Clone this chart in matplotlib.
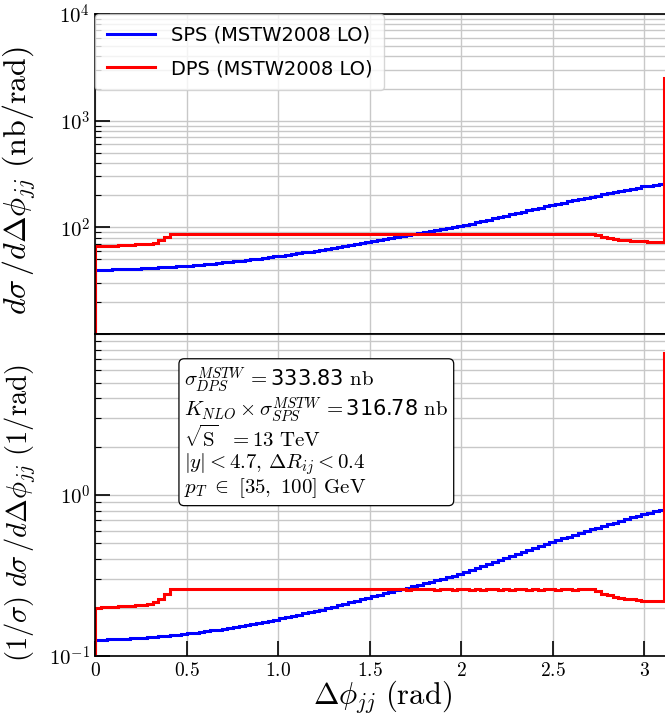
import numpy as np
import matplotlib
matplotlib.use('Agg')
import matplotlib.pyplot as plt
from matplotlib.ticker import FixedLocator, FixedFormatter, FuncFormatter, LogLocator, NullFormatter

plt.rcParams.update({'mathtext.fontset': 'cm'})

# 100 bins over [0, pi]
edges = np.linspace(0, np.pi, 101)

# dsigma/dDphi (nb/rad)
sps = [40.0, 40.1, 40.2, 40.3, 40.4, 40.6, 40.8, 41.0, 41.2, 41.5,
       41.8, 42.1, 42.4, 42.7, 43.0, 43.4, 43.8, 44.2, 44.7, 45.2,
       45.7, 46.2, 46.8, 47.4, 48.0, 48.7, 49.4, 50.1, 50.8, 51.6,
       52.4, 53.3, 54.2, 55.1, 56.1, 57.1, 58.2, 59.3, 60.4, 61.6,
       62.8, 64.1, 65.4, 66.8, 68.2, 69.7, 71.2, 72.8, 74.4, 76.1,
       77.7, 79.3, 81.0, 82.7, 84.4, 86.2, 88.0, 89.9, 91.8, 93.7,
       95.7, 97.7, 99.8, 101.9, 104.9, 108.0, 111.2, 114.5, 117.9, 121.4,
       125.0, 128.7, 132.5, 136.4, 140.4, 144.5, 148.7, 153.0, 157.5, 162.1,
       166.3, 170.6, 175.0, 179.5, 184.1, 188.8, 193.6, 198.5, 203.5, 208.6,
       213.8, 219.1, 224.5, 230.0, 235.6, 241.3, 246.5, 251.7, 256.9, 262.1]

dps = [66.8, 67.0, 67.2, 67.5, 67.8, 68.2, 68.6, 69.1, 69.7, 70.4,
       72.0, 75.5, 80.5, 86.5,
       87.0, 86.8, 86.9, 86.6, 86.8, 86.7, 86.9, 86.5, 86.8, 86.6,
       86.7, 86.9, 86.6, 86.8, 86.5, 86.7, 86.8, 86.6, 86.9, 86.7,
       86.5, 86.8, 86.6, 86.7, 86.9, 86.6, 86.8, 86.5, 86.7, 86.6,
       86.8, 86.9, 86.6, 86.7, 86.5, 86.8, 86.6, 86.7, 86.9, 86.6,
       86.4, 86.7, 86.5, 86.8, 86.6, 86.3, 86.5, 86.7, 86.4, 86.6,
       86.5, 86.3, 86.6, 86.4, 86.7, 86.5, 86.3, 86.6, 86.4, 86.5,
       86.7, 86.4, 86.6, 86.3, 86.5, 86.6, 86.4, 86.7, 86.5, 86.4,
       86.6, 86.8, 86.5,
       84.0, 81.5, 79.5, 78.0, 76.8, 75.8, 75.0, 74.3, 73.8, 73.4, 73.1, 72.9,
       2530.0]

sigma_dps = 333.83  # nb
sigma_sps = 316.78  # nb (K_NLO x sigma)

xticks = [0, 0.5, 1.0, 1.5, 2, 2.5, 3]
xticklabels = ['$0$', '$0.5$', '$1.0$', '$1.5$', '$2$', '$2.5$', '$3$']

fig = plt.figure(figsize=(6.65, 7.15), dpi=100)
ax0 = fig.add_axes([0.1429, 0.5329, 0.8647, 0.4476])
ax1 = fig.add_axes([0.1429, 0.0825, 0.8647, 0.4503], sharex=ax0)

lw = 2.2
ax0.stairs(sps, edges, baseline=1e-6, color='#0000ff', lw=lw, label='SPS (MSTW2008 LO)')
ax0.stairs(dps, edges, baseline=1e-6, color='#ff0000', lw=lw, label='DPS (MSTW2008 LO)')
ax1.stairs(np.array(sps) / sigma_sps, edges, baseline=1e-6, color='#0000ff', lw=lw)
ax1.stairs(np.array(dps) / sigma_dps, edges, baseline=1e-6, color='#ff0000', lw=lw)

def logfmt(v, pos):
    e = int(round(np.log10(v)))
    return r'$10^{%d}$' % e

for ax, lo, hi in ((ax0, 10, 1e4), (ax1, 0.1, 10)):
    ax.set_yscale('log')
    ax.set_ylim(lo, hi)
    ax.set_xlim(0, np.pi)
    ax.yaxis.set_major_locator(LogLocator(base=10, numticks=10))
    ax.yaxis.set_minor_locator(LogLocator(base=10, subs=np.arange(2, 10), numticks=20))
    ax.yaxis.set_minor_formatter(NullFormatter())
    ax.set_axisbelow(True)
    ax.grid(True, which='major', color='#c8c8c8', lw=1.0)
    ax.grid(True, which='minor', axis='y', color='#c8c8c8', lw=1.0)
    ax.tick_params(which='major', direction='in', length=10.5, width=1.2, labelsize=15)
    ax.tick_params(which='minor', direction='in', length=4, width=0.8)
    for s in ax.spines.values():
        s.set_linewidth(1.2)

# hide the 10^1 labels where the panels meet
ax0.yaxis.set_major_formatter(FuncFormatter(lambda v, p: '' if v < 20 else logfmt(v, p)))
ax1.yaxis.set_major_formatter(FuncFormatter(lambda v, p: '' if v > 5 else logfmt(v, p)))

ax1.xaxis.set_major_locator(FixedLocator(xticks))
ax1.xaxis.set_major_formatter(FixedFormatter(xticklabels))
ax1.tick_params(axis='x', labelsize=14)
ax0.tick_params(axis='x', labelbottom=False, length=0)

ax0.set_ylabel(r'$d\sigma\,/d\Delta\phi_{jj}\ (\mathrm{nb/rad})$', fontsize=23)
ax1.set_ylabel(r'$(1/\sigma)\ d\sigma\,/d\Delta\phi_{jj}\ (1/\mathrm{rad})$', fontsize=20.5)
ax0.yaxis.set_label_coords(-0.1, 0.478)
ax1.yaxis.set_label_coords(-0.1, 0.444)
ax1.set_xlabel(r'$\Delta\phi_{jj}\ (\mathrm{rad})$', fontsize=22, labelpad=-1)

ax0.legend(loc='upper left', borderaxespad=0, fontsize=14, handlelength=2.5,
           labelspacing=0.75, borderpad=0.6)

info = '\n'.join([
    r'$\sigma^{MSTW}_{DPS}\, = $' + '%.2f' % sigma_dps + r' $\mathrm{nb}$',
    r'$K_{NLO}\times\sigma^{MSTW}_{SPS}\, = $' + '%.2f' % sigma_sps + r' $\mathrm{nb}$',
    r'$\sqrt{\mathrm{S}}\ \ = 13\ \mathrm{TeV}$',
    r'$|y| < 4.7,\, \Delta R_{ij} < 0.4$',
    r'$p_T\ \in\ [35,\ 100]\ \mathrm{GeV}$',
])
ax1.text(0.155, 0.902, info, transform=ax1.transAxes, va='top', ha='left', fontsize=15,
         linespacing=1.0,
         bbox=dict(boxstyle='round,pad=0.25', facecolor='white', edgecolor='black', lw=0.9))

fig.savefig('out.png', dpi=100)
